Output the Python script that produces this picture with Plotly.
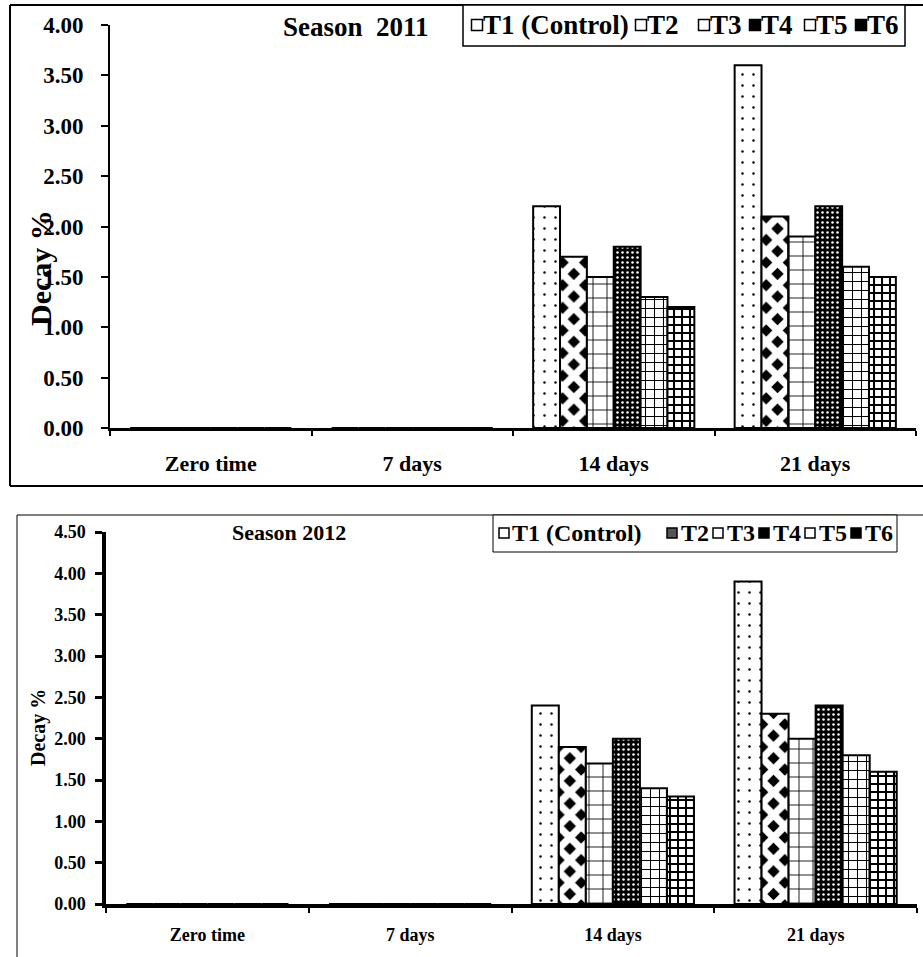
import plotly.graph_objects as go

W, H = 923, 957

categories = ["Zero time", "7 days", "14 days", "21 days"]
treatments = ["T1 (Control)", "T2", "T3", "T4", "T5", "T6"]

# Season 2011 values (Decay %)
s2011_T1 = [0, 0, 2.20, 3.60]
s2011_T2 = [0, 0, 1.70, 2.10]
s2011_T3 = [0, 0, 1.50, 1.90]
s2011_T4 = [0, 0, 1.80, 2.20]
s2011_T5 = [0, 0, 1.30, 1.60]
s2011_T6 = [0, 0, 1.20, 1.50]

# Season 2012 values (Decay %)
s2012_T1 = [0, 0, 2.40, 3.90]
s2012_T2 = [0, 0, 1.90, 2.30]
s2012_T3 = [0, 0, 1.70, 2.00]
s2012_T4 = [0, 0, 2.00, 2.40]
s2012_T5 = [0, 0, 1.40, 1.80]
s2012_T6 = [0, 0, 1.30, 1.60]

ytick_2011 = [0, 0.5, 1, 1.5, 2, 2.5, 3, 3.5, 4]
ytick_2012 = [0, 0.5, 1, 1.5, 2, 2.5, 3, 3.5, 4, 4.5]

series_2011 = [s2011_T1, s2011_T2, s2011_T3, s2011_T4, s2011_T5, s2011_T6]
series_2012 = [s2012_T1, s2012_T2, s2012_T3, s2012_T4, s2012_T5, s2012_T6]

patterns = [
    dict(shape=".", fgcolor="black", bgcolor="white", size=11, solidity=0.04, fgopacity=1),
    dict(shape="x", fgcolor="white", bgcolor="black", size=16, solidity=0.7, fgopacity=1),
    dict(shape="+", fgcolor="black", bgcolor="white", size=14, solidity=0.12, fgopacity=1),
    dict(shape=".", fgcolor="white", bgcolor="black", size=5, solidity=0.2, fgopacity=1),
    dict(shape="+", fgcolor="black", bgcolor="white", size=9, solidity=0.22, fgopacity=1),
    dict(shape="+", fgcolor="black", bgcolor="white", size=8, solidity=0.45, fgopacity=1),
]
swatch_top = ["white", "white", "white", "black", "white", "black"]
swatch_bottom = ["white", "#555555", "white", "black", "white", "black"]

SERIF = "Liberation Serif"


def px_x(p):
    return p / W


def px_y(p):
    return 1 - p / H


fig = go.Figure()

for i, (name, vals) in enumerate(zip(treatments, series_2011)):
    fig.add_trace(go.Bar(
        x=categories, y=vals, name=name, xaxis="x", yaxis="y", showlegend=False,
        marker=dict(color="white", line=dict(color="black", width=2), pattern=patterns[i]),
    ))
for i, (name, vals) in enumerate(zip(treatments, series_2012)):
    fig.add_trace(go.Bar(
        x=categories, y=vals, name=name, xaxis="x2", yaxis="y2", showlegend=False,
        marker=dict(color="white", line=dict(color="black", width=2), pattern=patterns[i]),
    ))

fig.update_layout(
    width=W, height=H,
    margin=dict(l=0, r=0, t=0, b=0, autoexpand=False),
    paper_bgcolor="white", plot_bgcolor="white",
    barmode="group", bargap=0.2, bargroupgap=0.0,
    font=dict(family=SERIF, color="black"),
    showlegend=False,
    xaxis=dict(
        domain=[px_x(110), px_x(916)], anchor="y",
        showline=True, linecolor="black", linewidth=3,
        ticks="outside", ticklen=5, tickwidth=2, tickcolor="black", tickson="boundaries",
        showgrid=False, zeroline=False,
        tickfont=dict(family=SERIF, size=22, weight="bold"),
        ticklabelstandoff=14,
    ),
    yaxis=dict(
        domain=[px_y(428), px_y(25)], anchor="x",
        range=[0, 4], tickvals=ytick_2011, tickformat=".2f",
        showline=True, linecolor="black", linewidth=2,
        ticks="outside", ticklen=7, tickwidth=2, tickcolor="black",
        showgrid=False, zeroline=False,
        tickfont=dict(family=SERIF, size=23, weight="bold"),
        ticklabelstandoff=13,
    ),
    xaxis2=dict(
        domain=[px_x(106), px_x(917)], anchor="y2",
        showline=True, linecolor="black", linewidth=3.5,
        ticks="outside", ticklen=5, tickwidth=2, tickcolor="black", tickson="boundaries",
        showgrid=False, zeroline=False,
        tickfont=dict(family=SERIF, size=18, weight="bold"),
        ticklabelstandoff=12,
    ),
    yaxis2=dict(
        domain=[px_y(904), px_y(532)], anchor="x2",
        range=[0, 4.5], tickvals=ytick_2012, tickformat=".2f",
        showline=True, linecolor="black", linewidth=3.5,
        ticks="outside", ticklen=7, tickwidth=2.5, tickcolor="black",
        showgrid=False, zeroline=False,
        tickfont=dict(family=SERIF, size=18, weight="bold"),
        ticklabelstandoff=6,
    ),
)

# Frames around each chart
frame = dict(color="black", width=2)
fig.add_shape(type="line", xref="paper", yref="paper", x0=px_x(10), x1=1, y0=px_y(5), y1=px_y(5), line=frame)
fig.add_shape(type="line", xref="paper", yref="paper", x0=px_x(10), x1=px_x(10), y0=px_y(5), y1=px_y(486), line=frame)
fig.add_shape(type="line", xref="paper", yref="paper", x0=px_x(10), x1=1, y0=px_y(486), y1=px_y(486), line=frame)
frame2 = dict(color="black", width=1)
fig.add_shape(type="line", xref="paper", yref="paper", x0=px_x(17), x1=1, y0=px_y(515), y1=px_y(515), line=frame2)
fig.add_shape(type="line", xref="paper", yref="paper", x0=px_x(17), x1=px_x(17), y0=px_y(515), y1=0, line=frame2)


def legend_block(box, text_y, sym_x, text_x, font_size, sym_size, lw, fills):
    x0, x1, y0, y1 = box
    fig.add_shape(type="rect", xref="paper", yref="paper",
                  x0=px_x(x0), x1=px_x(x1), y0=px_y(y1), y1=px_y(y0),
                  line=dict(color="black", width=lw), fillcolor="white", layer="above")
    for i, name in enumerate(treatments):
        cx = sym_x[i]
        h = sym_size / 2
        fig.add_shape(type="rect", xref="paper", yref="paper",
                      x0=px_x(cx - h), x1=px_x(cx + h), y0=px_y(text_y + h), y1=px_y(text_y - h),
                      line=dict(color="black", width=1.5), fillcolor=fills[i], layer="above")
        fig.add_annotation(text=name, xref="paper", yref="paper", x=px_x(text_x[i]), y=px_y(text_y),
                           showarrow=False, xanchor="left", yanchor="middle", borderpad=0,
                           font=dict(family=SERIF, size=font_size, weight="bold"))


# Legends (drawn as boxes, swatches and text)
legend_block((463, 905, 5, 46), 25,
             [477, 641, 704, 755, 810, 861],
             [482, 646, 709, 760, 815, 866], 27, 11, 1.5, swatch_top)
legend_block((493, 897, 515, 552), 533,
             [504, 672, 718, 764, 810, 856],
             [511, 680, 726, 772, 818, 864], 24, 10, 1, swatch_bottom)

# Titles and axis titles
fig.add_annotation(text="Season  2011", xref="paper", yref="paper", x=px_x(356), y=px_y(27),
                   showarrow=False, xanchor="center", yanchor="middle",
                   font=dict(family=SERIF, size=27, weight="bold"))
fig.add_annotation(text="Season 2012", xref="paper", yref="paper", x=px_x(289), y=px_y(532),
                   showarrow=False, xanchor="center", yanchor="middle",
                   font=dict(family=SERIF, size=22, weight="bold"))
fig.add_annotation(text="Decay %", xref="paper", yref="paper", x=px_x(40), y=px_y(268),
                   showarrow=False, textangle=-90, xanchor="center", yanchor="middle",
                   font=dict(family=SERIF, size=30, weight="bold"))
fig.add_annotation(text="Decay %", xref="paper", yref="paper", x=px_x(38), y=px_y(728),
                   showarrow=False, textangle=-90, xanchor="center", yanchor="middle",
                   font=dict(family=SERIF, size=20, weight="bold"))

fig.write_html("out.html")
